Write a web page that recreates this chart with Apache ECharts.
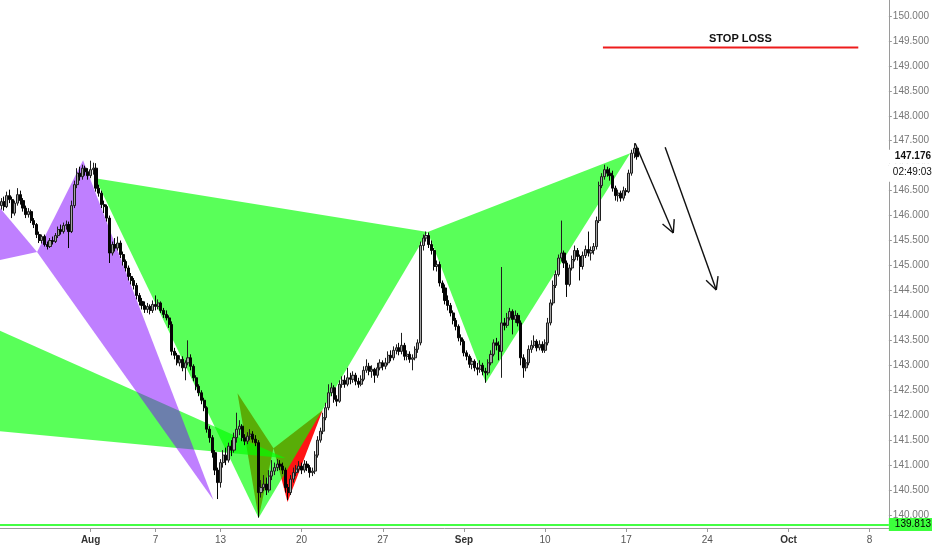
<!DOCTYPE html>
<html><head><meta charset="utf-8">
<script src="https://cdn.jsdelivr.net/npm/echarts@6/dist/echarts.min.js"></script>
<style>html,body{margin:0;padding:0;background:#fff}#c{width:932px;height:550px}</style>
</head><body><div id="c"></div>
<script>
// x axis: one unit = one 4-hour bar
const tickBars = [33, 57, 81, 111, 141, 171, 201, 231, 261, 291, 321];
const tickLabels = ['Aug', '7', '13', '20', '27', 'Sep', '10', '17', '24', 'Oct', '8'];
const priceTicks = [140, 140.5, 141, 141.5, 142, 142.5, 143, 143.5, 144, 144.5, 145, 145.5, 146, 146.5, 147, 147.5, 148, 148.5, 149, 149.5, 150];

// candles: [open, close, low, high]
const ohlc = [
[146.20,146.28,146.12,146.35],[146.28,146.18,146.10,146.38],[146.18,146.40,146.15,146.48],[146.40,146.32,146.25,146.52],
[146.32,146.05,145.95,146.38],[146.05,146.25,146.00,146.30],[146.25,146.42,146.20,146.55],[146.42,146.30,146.22,146.50],
[146.30,146.15,146.08,146.35],[146.15,146.02,145.95,146.20],[146.02,146.08,145.96,146.15],[146.08,145.90,145.85,146.12],
[145.90,145.82,145.75,145.95],[145.82,145.62,145.55,145.85],[145.62,145.50,145.45,145.68],[145.50,145.58,145.44,145.62],
[145.58,145.42,145.38,145.62],[145.42,145.38,145.32,145.48],[145.38,145.50,145.35,145.55],[145.50,145.48,145.42,145.58],
[145.48,145.60,145.45,145.65],[145.60,145.72,145.55,145.78],[145.72,145.68,145.62,145.82],[145.68,145.80,145.64,145.86],
[145.80,145.82,145.72,145.90],[145.82,145.68,145.35,145.88],[145.68,146.20,145.65,146.30],[146.20,146.62,146.15,146.70],
[146.62,146.85,146.55,146.95],[146.85,146.78,146.70,146.98],[146.78,146.95,146.72,147.02],[146.95,146.88,146.80,147.00],
[146.88,146.80,146.72,146.95],[146.80,146.92,146.75,147.10],[146.92,146.95,146.82,147.06],[146.95,146.55,146.48,147.05],
[146.55,146.45,146.38,146.62],[146.45,146.22,146.15,146.50],[146.22,146.18,146.05,146.30],[146.18,145.95,145.88,146.22],
[145.95,145.25,145.05,146.00],[145.25,145.42,145.20,145.48],[145.42,145.35,145.28,145.55],[145.35,145.45,145.30,145.58],
[145.45,145.22,145.15,145.50],[145.22,145.08,145.00,145.28],[145.08,144.95,144.88,145.12],[144.95,144.78,144.70,145.00],
[144.78,144.70,144.62,144.85],[144.70,144.60,144.52,144.75],[144.60,144.40,144.32,144.65],[144.40,144.28,144.20,144.45],
[144.28,144.20,144.12,144.35],[144.20,144.12,144.05,144.28],[144.12,144.18,144.05,144.25],[144.18,144.10,144.02,144.22],
[144.10,144.22,144.05,144.30],[144.22,144.18,144.10,144.40],[144.18,144.25,144.12,144.32],[144.25,144.10,144.05,144.28],
[144.10,144.02,143.95,144.15],[144.02,143.95,143.90,144.10],[143.95,143.82,143.75,144.00],[143.82,143.28,143.20,143.88],
[143.28,143.20,143.12,143.35],[143.20,143.05,143.00,143.25],[143.05,143.12,142.98,143.20],[143.12,142.95,142.88,143.18],
[142.95,143.05,142.70,143.10],[143.05,143.15,143.00,143.50],[143.15,142.98,142.90,143.22],[142.98,142.75,142.68,143.02],
[142.75,142.58,142.50,142.80],[142.58,142.45,142.38,142.62],[142.45,142.30,142.22,142.50],[142.30,142.15,142.08,142.35],
[142.15,141.72,141.65,142.18],[141.72,141.55,141.45,141.78],[141.55,141.25,141.15,141.60],[141.25,140.90,140.80,141.30],
[140.90,140.65,140.32,140.95],[140.65,141.05,140.55,141.12],[141.05,141.20,140.95,141.30],[141.20,141.10,141.00,141.35],
[141.10,141.38,141.05,141.45],[141.38,141.30,141.18,141.50],[141.30,141.55,141.25,141.65],[141.55,141.72,141.45,142.05],
[141.72,141.78,141.60,141.90],[141.78,141.55,141.48,141.82],[141.55,141.48,141.40,141.62],[141.48,141.58,141.42,141.66],
[141.58,141.62,141.50,141.72],[141.62,141.52,141.45,141.68],[141.52,141.45,141.38,141.60],[141.45,140.45,139.95,141.50],
[140.45,140.55,140.35,140.70],[140.55,140.62,140.48,140.80],[140.62,140.50,140.40,140.75],[140.50,140.78,140.45,140.90],
[140.78,140.88,140.70,141.10],[140.88,140.95,140.80,141.05],[140.95,141.02,140.88,141.12],[141.02,140.98,140.90,141.10],
[140.98,140.90,140.82,141.05],[140.90,140.55,140.45,140.95],[140.55,140.45,140.30,140.62],[140.45,140.72,140.40,140.80],
[140.72,140.85,140.65,140.95],[140.85,140.92,140.78,141.00],[140.92,140.98,140.85,141.08],[140.98,140.90,140.82,141.05],
[140.90,141.02,140.85,141.10],[141.02,140.95,140.88,141.08],[140.95,140.85,140.75,141.00],[140.85,140.88,140.78,140.95],
[140.88,141.20,140.82,141.28],[141.20,141.50,141.15,141.58],[141.50,141.68,141.45,141.75],[141.68,141.95,141.62,142.05],
[141.95,142.15,141.90,142.25],[142.15,142.45,142.10,142.62],[142.45,142.55,142.38,142.65],[142.55,142.32,142.25,142.60],
[142.32,142.28,142.18,142.40],[142.28,142.62,142.25,142.70],[142.62,142.70,142.55,142.78],[142.70,142.62,142.55,142.80],
[142.62,142.75,142.58,142.95],[142.75,142.72,142.62,142.85],[142.72,142.80,142.65,142.88],[142.80,142.68,142.60,142.85],
[142.68,142.62,142.55,142.75],[142.62,142.72,142.58,142.80],[142.72,142.90,142.68,142.98],[142.90,142.98,142.85,143.12],
[142.98,142.88,142.80,143.05],[142.88,142.92,142.75,143.00],[142.92,142.80,142.65,142.95],[142.80,142.95,142.75,143.05],
[142.95,143.05,142.90,143.12],[143.05,142.98,142.90,143.10],[142.98,143.05,142.92,143.15],[143.05,143.20,143.00,143.28],
[143.20,143.15,143.08,143.30],[143.15,143.30,143.10,143.38],[143.30,143.35,143.22,143.42],[143.35,143.28,143.20,143.45],
[143.28,143.40,143.22,143.65],[143.40,143.18,143.10,143.45],[143.18,143.22,143.10,143.30],[143.22,143.12,143.05,143.28],
[143.12,143.15,142.90,143.22],[143.15,143.32,143.10,143.38],[143.32,143.45,143.25,143.52],[143.45,145.40,143.40,145.48],
[145.40,145.55,145.30,145.62],[145.55,145.60,145.48,145.68],[145.60,145.42,145.35,145.66],[145.42,145.30,145.22,145.50],
[145.30,144.98,144.90,145.35],[144.98,145.02,144.88,145.10],[145.02,144.65,144.58,145.08],[144.65,144.55,144.45,144.70],
[144.55,144.30,144.22,144.62],[144.30,144.20,144.10,144.40],[144.20,144.05,143.98,144.25],[144.05,143.90,143.82,144.10],
[143.90,143.78,143.70,143.95],[143.78,143.55,143.48,143.82],[143.55,143.48,143.40,143.62],[143.48,143.25,143.18,143.52],
[143.25,143.18,143.10,143.30],[143.18,143.02,142.95,143.22],[143.02,143.08,142.92,143.15],[143.08,142.95,142.88,143.12],
[142.95,142.92,142.80,143.05],[142.92,143.00,142.85,143.10],[143.00,142.88,142.80,143.05],[142.88,142.85,142.65,142.95],
[142.85,143.05,142.80,143.12],[143.05,143.22,143.00,143.30],[143.22,143.45,143.18,143.52],[143.45,143.40,143.30,143.55],
[143.40,143.28,143.10,143.48],[143.28,143.85,142.75,144.97],[143.85,143.80,143.70,143.95],[143.80,143.95,143.75,144.05],
[143.95,144.08,143.90,144.15],[144.08,143.92,143.62,144.12],[143.92,144.00,143.85,144.10],[144.00,143.85,143.78,144.05],
[143.85,143.15,143.00,143.90],[143.15,142.95,142.75,143.22],[142.95,143.05,142.88,143.12],[143.05,143.32,143.00,143.40],
[143.32,143.40,143.25,143.50],[143.40,143.48,143.35,143.60],[143.48,143.35,143.28,143.52],[143.35,143.42,143.30,143.50],
[143.42,143.30,143.25,143.48],[143.30,143.45,143.25,143.52],[143.45,143.85,143.40,143.95],[143.85,144.25,143.80,144.32],
[144.25,144.60,144.20,144.70],[144.60,144.82,144.55,144.90],[144.82,145.15,144.78,145.22],[145.15,145.25,145.08,145.90],
[145.25,145.05,144.95,145.30],[145.05,144.62,144.37,145.10],[144.62,144.95,144.58,145.02],[144.95,145.12,144.90,145.20],
[145.12,145.30,145.08,145.40],[145.30,145.18,145.10,145.35],[145.18,144.98,144.70,145.22],[144.98,145.20,144.92,145.28],
[145.20,145.32,145.15,145.40],[145.32,145.25,145.18,145.68],[145.25,145.30,145.10,145.38],[145.30,145.38,145.22,145.45],
[145.38,145.90,145.32,145.98],[145.90,146.60,145.85,146.68],[146.60,146.78,146.55,146.85],[146.78,146.92,146.72,147.02],
[146.92,146.85,146.78,146.98],[146.85,146.80,146.70,146.95],[146.80,146.55,146.48,146.90],[146.55,146.40,146.30,146.60],
[146.40,146.45,146.28,146.52],[146.45,146.35,146.28,146.50],[146.35,146.50,146.30,146.58],[146.50,146.48,146.40,146.55],
[146.48,146.85,146.45,146.92],[146.85,147.25,146.80,147.32],[147.25,147.35,147.15,147.45],[147.35,147.18,147.12,147.40]
];

// pattern vertices: [bar, price]
const greenXAB = [[34.7,146.75],[95.1,139.94],[157.6,145.67]];
const greenBCD = [[157.6,145.67],[179.1,142.65],[232.5,147.25]];
const redXAB = [[87.3,142.44],[95.1,139.94],[100.6,141.34]];
const redBCD = [[100.6,141.34],[105.8,140.26],[118.8,142.10]];
const purpleXAB = [[-30.1,144.77],[-15.3,147.11],[13.2,145.27]];
const purpleBCD = [[13.2,145.27],[30.2,147.11],[78.4,140.30]];
const greenWedge = [[-37.5,144.59],[-37.5,141.87],[105.1,141.14]];

// arrows: [startBar, startPrice, endBar, endPrice]
const arrows = [[234.3,147.45,248.4,145.65],[245.4,147.37,264.3,144.51]];

const stopLoss = 149.37;
const stopLossBars = [222.4, 316.8];
const stopLossTextBar = 273.2;
const lastPrice = 147.176;
const countdown = '02:49:03';
const countdownPrice = 146.86;
const lowLevel = 139.813;

const FONT = 'Liberation Sans, Arial, sans-serif';
const CLEAR = 'rgba(0,0,0,0)';

function polySeries(pts, fill, z) {
  return {
    type: 'custom', silent: true, z: z, animation: false,
    data: pts,
    renderItem: function (params, api) {
      if (params.dataIndex !== 0) return null;
      return { type: 'polygon', shape: { points: pts.map(function (p) { return api.coord(p); }) }, style: { fill: fill } };
    }
  };
}

const chart = echarts.init(document.getElementById('c'), null, { renderer: 'canvas' });
chart.setOption({
  animation: false,
  backgroundColor: '#ffffff',
  grid: { left: 0, right: 43, top: 0, bottom: 22 },
  xAxis: {
    type: 'value', min: -0.5, max: 328.1,
    axisLine: { show: true, onZero: false, lineStyle: { color: '#9a9a9a', width: 1 } },
    axisTick: { show: true, customValues: tickBars, length: 4, lineStyle: { color: '#9a9a9a' } },
    axisLabel: {
      customValues: tickBars, color: '#555', fontSize: 10, fontFamily: FONT, margin: 7,
      formatter: function (v) {
        const k = tickBars.indexOf(Math.round(v));
        const s = k >= 0 ? tickLabels[k] : '';
        return isNaN(+s) ? '{m|' + s + '}' : s;
      },
      rich: { m: { fontWeight: 'bold', color: '#333', fontSize: 10, fontFamily: FONT } }
    },
    splitLine: { show: false }
  },
  yAxis: {
    type: 'value', position: 'right', min: 139.74, max: 150.32,
    axisLine: { show: true, onZero: false, lineStyle: { color: '#9a9a9a', width: 1 } },
    axisTick: { show: true, customValues: priceTicks, length: 3, lineStyle: { color: '#9a9a9a' } },
    axisLabel: {
      customValues: priceTicks, color: '#777', fontSize: 10, fontFamily: FONT, margin: 4,
      formatter: function (v) { return v.toFixed(3); }
    },
    splitLine: { show: false }
  },
  series: [
    polySeries(redXAB, 'rgba(255,0,0,0.92)', 1),
    polySeries(redBCD, 'rgba(255,0,0,0.92)', 1),
    polySeries(greenXAB, 'rgba(0,255,0,0.65)', 2),
    polySeries(greenBCD, 'rgba(0,255,0,0.65)', 2),
    polySeries(greenWedge, 'rgba(0,255,0,0.65)', 2),
    polySeries(purpleXAB, 'rgba(128,0,255,0.5)', 3),
    polySeries(purpleBCD, 'rgba(128,0,255,0.5)', 3),
    {
      type: 'candlestick', z: 5,
      dimensions: ['bar', 'open', 'close', 'lowest', 'highest'],
      encode: { x: 0, y: [1, 2, 3, 4] },
      data: ohlc.map(function (r, i) { return [i, r[0], r[1], r[2], r[3]]; }),
      barWidth: 2.6,
      itemStyle: { color: '#a4a4a4', color0: '#050505', borderColor: '#1e1e1e', borderColor0: '#050505', borderWidth: 1 },
      markLine: {
        silent: true, symbol: ['none', 'none'], animation: false,
        data: [
          { yAxis: lowLevel, lineStyle: { color: '#44ff44', width: 2, type: 'solid' },
            label: { show: true, position: 'end', distance: 0, formatter: lowLevel.toFixed(3), color: '#000', fontSize: 10, fontFamily: FONT,
              backgroundColor: '#3cff3c', padding: [2, 5, 1, 6] } },
          { yAxis: countdownPrice, lineStyle: { color: CLEAR, width: 1 },
            label: { show: true, position: 'end', distance: 0, formatter: countdown, color: '#111', fontSize: 10, fontFamily: FONT,
              backgroundColor: '#ffffff', padding: [5, 4, 3, 4] } },
          { yAxis: lastPrice, lineStyle: { color: CLEAR, width: 1 },
            label: { show: true, position: 'end', distance: 0, formatter: lastPrice.toFixed(3), color: '#111', fontSize: 10, fontWeight: 'bold', fontFamily: FONT,
              backgroundColor: '#ffffff', padding: [2, 5, 2, 6] } }
        ]
      }
    },
    {
      type: 'custom', silent: true, z: 6, animation: false,
      data: arrows,
      renderItem: function (params, api) {
        const a = arrows[params.dataIndex];
        const p0 = api.coord([a[0], a[1]]);
        const p1 = api.coord([a[2], a[3]]);
        const dx = p1[0] - p0[0], dy = p1[1] - p0[1];
        const len = Math.sqrt(dx * dx + dy * dy);
        const bx = -dx / len, by = -dy / len;
        const ang = 27 * Math.PI / 180, L = 14;
        const c = Math.cos(ang), s = Math.sin(ang);
        const h1 = [p1[0] + L * (bx * c - by * s), p1[1] + L * (bx * s + by * c)];
        const h2 = [p1[0] + L * (bx * c + by * s), p1[1] + L * (-bx * s + by * c)];
        const st = { stroke: '#111', lineWidth: 1.4 };
        return { type: 'group', children: [
          { type: 'line', shape: { x1: p0[0], y1: p0[1], x2: p1[0], y2: p1[1] }, style: st },
          { type: 'line', shape: { x1: p1[0], y1: p1[1], x2: h1[0], y2: h1[1] }, style: st },
          { type: 'line', shape: { x1: p1[0], y1: p1[1], x2: h2[0], y2: h2[1] }, style: st }
        ] };
      }
    },
    {
      type: 'custom', silent: true, z: 6, animation: false,
      data: [stopLoss],
      renderItem: function (params, api) {
        const a = api.coord([stopLossBars[0], stopLoss]);
        const b = api.coord([stopLossBars[1], stopLoss]);
        const t = api.coord([stopLossTextBar, stopLoss]);
        return { type: 'group', children: [
          { type: 'line', shape: { x1: a[0], y1: a[1], x2: b[0], y2: b[1] }, style: { stroke: '#ee1c1c', lineWidth: 2 } },
          { type: 'text', x: t[0], y: t[1] - 3, style: { text: 'STOP LOSS', fill: '#111', font: 'bold 11px ' + FONT, textAlign: 'center', textVerticalAlign: 'bottom' } }
        ] };
      }
    }
  ]
});
</script>
</body></html>
